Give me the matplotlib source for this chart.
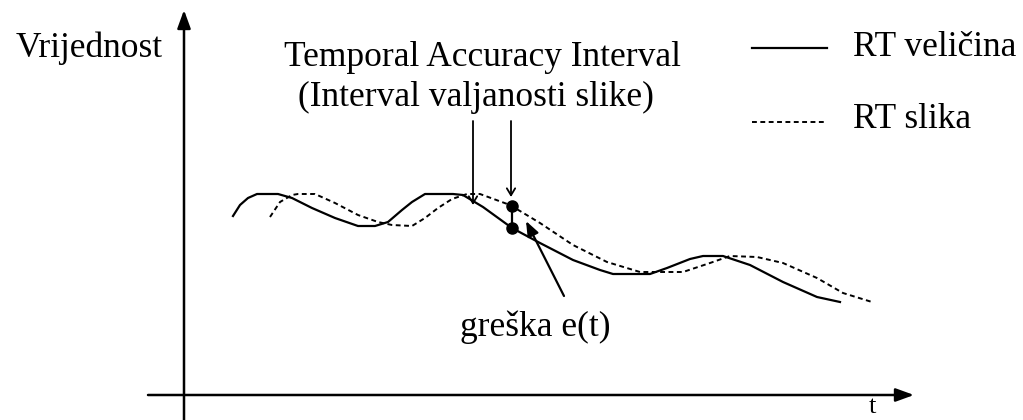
import matplotlib
matplotlib.use('Agg')
from matplotlib import pyplot as plt

# RT quantity (solid) and its image (dashed), in drawing units
solid_x = [233, 240, 248, 257, 278, 292, 312, 335, 358, 375, 388, 402, 412, 425, 453,
           463, 483, 512, 540, 573, 600, 613, 650, 667, 690, 703, 723, 750, 783, 817, 840]
solid_y = [216, 205, 198, 194, 194, 198, 208, 218, 226, 226, 222, 210, 202, 194, 194,
           195, 207, 228, 243, 260, 270, 274, 274, 268, 259, 256, 256, 265, 282, 297, 302]

dashed_x = [270, 280, 292, 298, 315, 335, 358, 378, 392, 412, 425, 438, 452, 467, 480,
            510, 540, 573, 607, 640, 683, 710, 730, 757, 783, 817, 843, 872]
dashed_y = [217, 202, 195, 194, 194, 203, 215, 222, 225, 226, 218, 208, 199, 194, 194,
            205, 223, 245, 262, 272, 272, 263, 256, 257, 263, 278, 293, 302]

# sample instant where the error is measured
err_x = 512
err_y = [206, 228]

y_label = 'Vrijednost'
x_label = 't'
interval_label = ['Temporal Accuracy Interval', '(Interval valjanosti slike)']
error_label = 'greška e(t)'
legend_labels = ['RT veličina', 'RT slika']

W, H = 1023, 420
fig = plt.figure(figsize=(W / 100, H / 100), dpi=100)
ax = fig.add_axes([0, 0, 1, 1])
ax.set_xlim(0, W)
ax.set_ylim(H, 0)
ax.axis('off')

font = dict(family='Liberation Serif', fontsize=25.5, color='black')
dash = (0, (2.5, 1.8))

# axes with filled arrow heads
ax.annotate('', xy=(184, 10), xytext=(184, 425),
            arrowprops=dict(arrowstyle='-|>,head_length=1.1,head_width=0.4',
                            lw=1.8, color='black', shrinkA=0, shrinkB=0))
ax.annotate('', xy=(914, 395), xytext=(148, 395),
            arrowprops=dict(arrowstyle='-|>,head_length=1.1,head_width=0.4',
                            lw=1.8, color='black', shrinkA=0, shrinkB=0))

# curves
ax.plot(solid_x, solid_y, color='black', lw=1.6, solid_joinstyle='round')
ax.plot(dashed_x, dashed_y, color='black', lw=1.4, linestyle=dash)

# error between the two curves
ax.plot([err_x, err_x], err_y, color='black', lw=1.6)
ax.plot([err_x] * 2, err_y, 'o', color='black', ms=8)

# arrows pointing at the accuracy interval
ax.annotate('', xy=(473, 205), xytext=(473, 121),
            arrowprops=dict(arrowstyle='->,head_length=0.5,head_width=0.3',
                            lw=1.3, color='black', shrinkA=0, shrinkB=0))
ax.annotate('', xy=(511, 197), xytext=(511, 121),
            arrowprops=dict(arrowstyle='->,head_length=0.5,head_width=0.3',
                            lw=1.3, color='black', shrinkA=0, shrinkB=0))
ax.annotate('', xy=(526, 221), xytext=(564, 296),
            arrowprops=dict(arrowstyle='-|>,head_length=0.9,head_width=0.35',
                            lw=1.6, color='black', shrinkA=0, shrinkB=0))

# texts
ax.text(16, 48, y_label, ha='left', va='center', **font)
ax.text(482, 57, interval_label[0], ha='center', va='center', **font)
ax.text(476, 97, interval_label[1], ha='center', va='center', **font)
ax.text(535, 327, error_label, ha='center', va='center', **font)
ax.text(872, 413, x_label, ha='center', va='baseline',
        **{**font, 'fontsize': 19})

# legend
ax.plot([752, 827], [48, 48], color='black', lw=1.6)
ax.plot([752, 825], [122, 122], color='black', lw=1.4, linestyle=dash)
ax.text(853, 48, legend_labels[0], ha='left', va='center', **font)
ax.text(853, 120, legend_labels[1], ha='left', va='center', **font)

fig.savefig('out.png', dpi=100, facecolor='white')
